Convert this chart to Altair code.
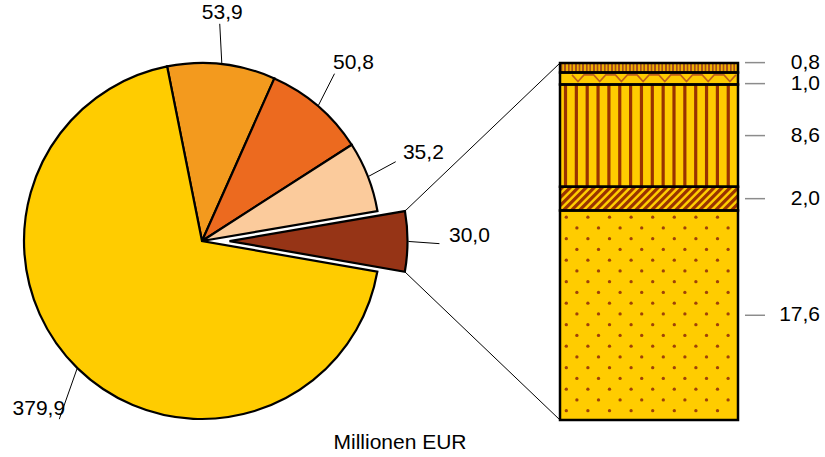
import math
import altair as alt
import pandas as pd

# ---------------- data ----------------
pie_labels = ["53,9", "50,8", "35,2", "30,0", "379,9"]
pie_values = [53.9, 50.8, 35.2, 30.0, 379.9]
pie_colors = ["#F39A1E", "#EC6A1F", "#FBCB9C", "#963416", "#FFCC00"]
pie_exploded = [0, 0, 0, 1, 0]

bar_labels = ["17,6", "2,0", "8,6", "1,0", "0,8"]
bar_values = [17.6, 2.0, 8.6, 1.0, 0.8]
bar_patterns = ["dots", "diagonal", "vertical", "zigzag", "grid"]

unit_label = ["Millionen EUR"]

# ---------------- layout / style ----------------
W, H = 825, 457
CX, CY, R = 202, 241, 178
EXPLODE = 27.5
START = math.radians(-11.3)
BAR_X0, BAR_X1 = 560, 738
BAR_TOP, BAR_BOTTOM = 63, 420
YELLOW = "#FFCC00"
BROWN = "#993300"
FONT = "Liberation Sans"
FS = 21

bar_total = sum(bar_values)
px_per_unit = (BAR_BOTTOM - BAR_TOP) / bar_total
BAR_W = BAR_X1 - BAR_X0

# ---------------- pie ----------------
pie_df = pd.DataFrame({
    "label": pie_labels,
    "value": pie_values,
    "color": pie_colors,
    "exploded": pie_exploded,
    "order": list(range(len(pie_values))),
})


def pie_base():
    return (
        alt.Chart(pie_df)
        .transform_joinaggregate(total="sum(value)")
        .transform_window(cum="sum(value)", sort=[alt.SortField("order")], frame=[None, 0])
        .transform_calculate(a0=f"{START} + 2*PI*(datum.cum - datum.value)/datum.total")
        .transform_calculate(a1=f"{START} + 2*PI*datum.cum/datum.total")
        .transform_calculate(mid="(datum.a0 + datum.a1)/2")
        .transform_calculate(cx=f"{CX} + datum.exploded*{EXPLODE}*sin(datum.mid)")
        .transform_calculate(cy=f"{CY} - datum.exploded*{EXPLODE}*cos(datum.mid)")
    )


arcs = pie_base().mark_arc(stroke="black", strokeWidth=2.2, radius=R).encode(
    theta=alt.Theta("value:Q", stack=True,
                    scale=alt.Scale(range=[START, START + 2 * math.pi])),
    order=alt.Order("order:Q"),
    fill=alt.Fill("color:N", scale=None),
    x=alt.X("cx:Q", scale=None, axis=None),
    y=alt.Y("cy:Q", scale=None, axis=None),
)

lab = (
    pie_base()
    .transform_calculate(lm=f"datum.mid - {math.radians(1.5)}")
    .transform_calculate(tx="datum.cx + 240*sin(datum.lm)")
    .transform_calculate(ty="datum.cy - 229*cos(datum.lm)")
    .transform_calculate(px=f"datum.cx + {R + 1}*sin(datum.mid)")
    .transform_calculate(py=f"datum.cy - {R + 1}*cos(datum.mid)")
    .transform_calculate(qx="datum.tx - 30*sin(datum.lm)")
    .transform_calculate(qy="datum.ty + 8 + 3*abs(cos(datum.lm))")
)

pie_text = lab.mark_text(font=FONT, fontSize=FS, align="center", baseline="middle",
                         color="black").encode(
    x=alt.X("tx:Q", scale=None, axis=None),
    y=alt.Y("ty:Q", scale=None, axis=None),
    text="label:N",
)

pie_leaders = lab.mark_rule(color="black", strokeWidth=1).encode(
    x=alt.X("px:Q", scale=None, axis=None),
    y=alt.Y("py:Q", scale=None, axis=None),
    x2="qx:Q",
    y2="qy:Q",
)

conn = (
    pie_base()
    .transform_filter("datum.exploded == 1")
    .transform_calculate(ux=f"datum.cx + {R}*sin(datum.a0)")
    .transform_calculate(uy=f"datum.cy - {R}*cos(datum.a0)")
    .transform_calculate(lx=f"datum.cx + {R}*sin(datum.a1)")
    .transform_calculate(ly=f"datum.cy - {R}*cos(datum.a1)")
)
conn_top = conn.mark_rule(color="black", strokeWidth=1).encode(
    x=alt.X("ux:Q", scale=None, axis=None),
    y=alt.Y("uy:Q", scale=None, axis=None),
    x2=alt.value(BAR_X0),
    y2=alt.value(BAR_TOP),
)
conn_bot = conn.mark_rule(color="black", strokeWidth=1).encode(
    x=alt.X("lx:Q", scale=None, axis=None),
    y=alt.Y("ly:Q", scale=None, axis=None),
    x2=alt.value(BAR_X0),
    y2=alt.value(BAR_BOTTOM),
)

# ---------------- bar of pie ----------------
bar_df = pd.DataFrame({
    "label": bar_labels,
    "value": bar_values,
    "order": list(range(len(bar_values))),
})
yscale = alt.Scale(domain=[0, bar_total], range=[BAR_BOTTOM, BAR_TOP], nice=False, zero=True)


def bar_base():
    return (
        alt.Chart(bar_df)
        .transform_window(y1="sum(value)", sort=[alt.SortField("order")], frame=[None, 0])
        .transform_calculate(y0="datum.y1 - datum.value")
    )


def stripe_stops(L, period, start, dark_w, soft, light=YELLOW, dark=BROWN):
    stops = [alt.GradientStop(offset=0, color=light)]
    k = 0
    while True:
        c = start + k * period
        if c - dark_w / 2 - soft >= L:
            break
        for pos, col in [(c - dark_w / 2 - soft, light), (c - dark_w / 2, dark),
                         (c + dark_w / 2, dark), (c + dark_w / 2 + soft, light)]:
            if 0 <= pos <= L:
                stops.append(alt.GradientStop(offset=pos / L, color=col))
        k += 1
    stops.append(alt.GradientStop(offset=1, color=light))
    return stops


def fill_for(pattern, value):
    seg_h = value * px_per_unit
    if pattern == "vertical":
        return alt.LinearGradient(gradient="linear", x1=0, y1=0, x2=1, y2=0,
                                  stops=stripe_stops(BAR_W, 10.85, 5.5, 2.2, 1.0))
    if pattern == "grid":
        return alt.LinearGradient(gradient="linear", x1=0, y1=0, x2=1, y2=0,
                                  stops=stripe_stops(BAR_W, 3.6, 1.5, 1.2, 0.6,
                                                     light="#F0B000", dark="#A8501A"))
    if pattern == "diagonal":
        L = BAR_W + seg_h
        k = L / (BAR_W ** 2 + seg_h ** 2)
        return alt.LinearGradient(gradient="linear", x1=0, y1=0,
                                  x2=BAR_W * k, y2=seg_h * k,
                                  stops=stripe_stops(L, 8.0, 3.0, 3.2, 1.3))
    return YELLOW


bar_fills = []
for i, (pat, val) in enumerate(zip(bar_patterns, bar_values)):
    bar_fills.append(
        bar_base().transform_filter(f"datum.order == {i}")
        .mark_rect(fill=fill_for(pat, val), strokeWidth=0)
        .encode(
            y=alt.Y("y0:Q", scale=yscale, axis=None),
            y2="y1:Q",
            x=alt.value(BAR_X0),
            x2=alt.value(BAR_X1),
        )
    )

# textures
cum = 0.0
seg_start = {}
for pat, val in zip(bar_patterns, bar_values):
    seg_start[pat] = (cum, val)
    cum += val

d0, dv = seg_start["dots"]
DOT_DY = 10.75 / px_per_unit
DOT_Y0 = d0 + 9.3 / px_per_unit
n_rows = int((d0 + dv - 0.3 - DOT_Y0) // DOT_DY) + 1
n_cols = 8
dots = (
    alt.Chart(alt.sequence(0, n_rows * n_cols, as_="i"))
    .transform_calculate(row=f"floor(datum.i / {n_cols})", col=f"datum.i % {n_cols}")
    .transform_calculate(dx=f"{BAR_X0 + 6.3} + 21.6*datum.col + 10.6*(datum.row % 2)")
    .transform_calculate(dy=f"{DOT_Y0} + {DOT_DY}*datum.row")
    .mark_circle(size=11, color="#9A3A08", opacity=0.95)
    .encode(
        x=alt.X("dx:Q", scale=None, axis=None),
        y=alt.Y("dy:Q", scale=yscale, axis=None),
    )
)

z0, zv = seg_start["zigzag"]
Z_TOP = z0 + zv * 0.8
Z_BOT = z0 + zv * 0.25
zig = (
    alt.Chart(alt.sequence(0, 24, as_="i"))
    .transform_calculate(k="floor(datum.i / 3)", j="datum.i % 3")
    .transform_calculate(zx=f"{BAR_X0 + 18} + 21.7*datum.k + 6*(datum.j - 1)")
    .transform_calculate(zy=f"datum.j == 1 ? {Z_BOT} : {Z_TOP}")
    .mark_line(color="#C0601A", strokeWidth=1.6)
    .encode(
        x=alt.X("zx:Q", scale=None, axis=None),
        y=alt.Y("zy:Q", scale=yscale, axis=None),
        order="i:Q",
    )
)

bar_outline = bar_base().mark_rect(fill=None, fillOpacity=0, stroke="black",
                                   strokeWidth=2.5).encode(
    y=alt.Y("y0:Q", scale=yscale, axis=None),
    y2="y1:Q",
    x=alt.value(BAR_X0),
    x2=alt.value(BAR_X1),
)

# label positions: segment centres, pushed apart where they would overlap
centers = []
c = 0.0
for v in bar_values:
    centers.append(c + v / 2)
    c += v
min_gap = 21 / px_per_unit
pos = centers[:]
for _ in range(50):
    for i in range(len(pos) - 1):
        gap = pos[i + 1] - pos[i]
        if gap < min_gap:
            d = (min_gap - gap) / 2
            pos[i] -= d
            pos[i + 1] += d

bar_lab_df = pd.DataFrame({"label": bar_labels, "ly": pos})
bar_text = alt.Chart(bar_lab_df).mark_text(font=FONT, fontSize=FS, align="right",
                                           baseline="middle", color="black").encode(
    x=alt.value(820),
    y=alt.Y("ly:Q", scale=yscale, axis=None),
    text="label:N",
)
bar_ticks = alt.Chart(bar_lab_df).mark_rule(color="#8C8C8C", strokeWidth=1.5).encode(
    x=alt.value(745),
    x2=alt.value(765),
    y=alt.Y("ly:Q", scale=yscale, axis=None),
)

unit_text = alt.Chart(pd.DataFrame({"t": unit_label})).mark_text(
    font=FONT, fontSize=FS, align="center", baseline="middle", color="black"
).encode(text="t:N", x=alt.value(400), y=alt.value(443))

chart = (
    alt.layer(
        conn_top, conn_bot, arcs, pie_leaders, pie_text,
        *bar_fills, dots, zig, bar_outline, bar_ticks, bar_text, unit_text,
    )
    .resolve_scale(x="independent", y="independent")
    .properties(width=W, height=H, padding=0,
                autosize=alt.AutoSizeParams(type="none"), background="white")
    .configure_view(stroke=None)
)

chart.save("out.html", embed_options={"renderer": "svg", "actions": False})
